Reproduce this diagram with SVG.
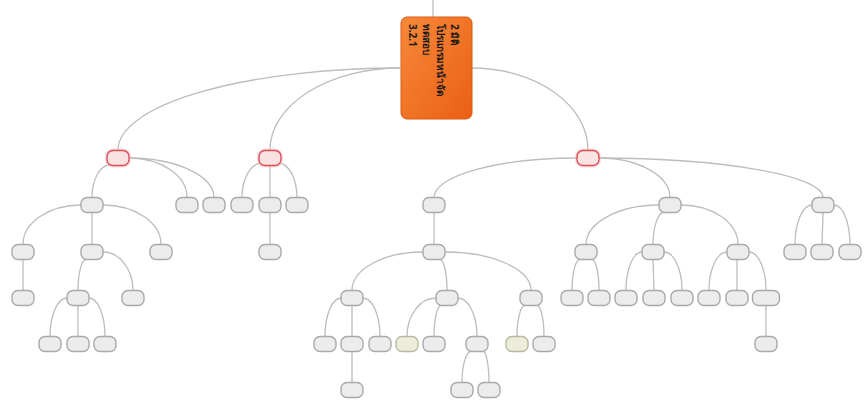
<svg xmlns="http://www.w3.org/2000/svg" width="865" height="403" viewBox="0 0 865 403">
<defs>
<linearGradient id="og" x1="0" y1="0" x2="1" y2="1">
<stop offset="0" stop-color="#f7893a"/>
<stop offset="1" stop-color="#ea5f14"/>
</linearGradient>
<style>
.c{fill:none;stroke:#bdbdbd;stroke-width:1.3}
.n{fill:#ececec;stroke:#a9a9a9;stroke-width:1.4}
.o{fill:#ecedda;stroke:#b9b9a2;stroke-width:1.4}
.r{fill:#fbe2e2;stroke:#d9505a;stroke-width:1.4}
.g{fill:none;stroke:#f6c4c4;stroke-width:4;opacity:.6}
.t{font-family:"Noto Sans","DejaVu Sans",sans-serif;font-size:10px;font-weight:bold;fill:#1a1a1a}
</style>
</defs>
<rect width="865" height="403" fill="#ffffff"/>
<g id="connectors" class="c">
<path d="M433 0V17"/>
<path d="M400 68A282 82 0 0 0 118 150.5"/>
<path d="M400 68A130 82 0 0 0 270 150.5"/>
<path d="M472 68A116 82 0 0 1 588 150.5"/>
<path d="M110 165A18 32.5 0 0 0 92 197.5"/>
<path d="M129 158A58 39.5 0 0 1 187 197.5"/>
<path d="M129 158A85 39.5 0 0 1 214 197.5"/>
<path d="M81 205A58 39.5 0 0 0 23 244.5"/>
<path d="M92 212.5V244.5"/>
<path d="M103 205A58 39.5 0 0 1 161 244.5"/>
<path d="M23 259.5V290.5"/>
<path d="M86 259.5A8 31 0 0 0 78 290.5"/>
<path d="M103 252A30 38.5 0 0 1 133 290.5"/>
<path d="M67 298A17 38.5 0 0 0 50 336.5"/>
<path d="M78 305.5V336.5"/>
<path d="M89 298A16 38.5 0 0 1 105 336.5"/>
<path d="M262 163A20 34.5 0 0 0 242 197.5"/>
<path d="M270 165.5V197.5"/>
<path d="M278 163A19 34.5 0 0 1 297 197.5"/>
<path d="M270 212.5V244.5"/>
<path d="M577 158A143 39.5 0 0 0 434 197.5"/>
<path d="M599 158A71 39.5 0 0 1 670 197.5"/>
<path d="M599 158A224 39.5 0 0 1 823 197.5"/>
<path d="M434 212.5V244.5"/>
<path d="M423 252A71 38.5 0 0 0 352 290.5"/>
<path d="M440 259.5A7 31 0 0 1 447 290.5"/>
<path d="M445 252A86 38.5 0 0 1 531 290.5"/>
<path d="M341 298A16 38.5 0 0 0 325 336.5"/>
<path d="M352 305.5V336.5"/>
<path d="M363 298A17 38.5 0 0 1 380 336.5"/>
<path d="M352 351.5V382.5"/>
<path d="M436 298A29 38.5 0 0 0 407 336.5"/>
<path d="M441 305.5A7 31 0 0 0 434 336.5"/>
<path d="M458 298A19 38.5 0 0 1 477 336.5"/>
<path d="M471 351.5A9 31 0 0 0 462 382.5"/>
<path d="M483 351.5A6 31 0 0 1 489 382.5"/>
<path d="M525 305.5A8 31 0 0 0 517 336.5"/>
<path d="M537 305.5A7 31 0 0 1 544 336.5"/>
<path d="M659 205A73 39.5 0 0 0 586 244.5"/>
<path d="M664 212.5A11 32 0 0 0 653 244.5"/>
<path d="M681 205A57 39.5 0 0 1 738 244.5"/>
<path d="M580 259.5A8 31 0 0 0 572 290.5"/>
<path d="M592 259.5A7 31 0 0 1 599 290.5"/>
<path d="M642 252A16 38.5 0 0 0 626 290.5"/>
<path d="M653 259.5L654 290.5"/>
<path d="M664 252A18 38.5 0 0 1 682 290.5"/>
<path d="M727 252A18 38.5 0 0 0 709 290.5"/>
<path d="M737 259.5V290.5"/>
<path d="M749 252A17 38.5 0 0 1 766 290.5"/>
<path d="M766 305.5V336.5"/>
<path d="M812 205A17 39.5 0 0 0 795 244.5"/>
<path d="M823 212.5L822 244.5"/>
<path d="M834 205A16 39.5 0 0 1 850 244.5"/>
</g>
<g id="root">
<rect x="401" y="17" width="71" height="102" rx="6" fill="url(#og)" stroke="#dc5a12" stroke-width="1"/>
<text class="t" transform="translate(451,24) rotate(90)">2 มิติ</text>
<text class="t" transform="translate(437,24) rotate(90)">โปรแกรมหน้าจัด</text>
<text class="t" transform="translate(423,24) rotate(90)">ทดสอบ</text>
<text class="t" transform="translate(409,24) rotate(90)">3.2.1</text>
</g>
<g id="A"><rect class="g" x="107" y="150.5" width="22" height="15" rx="6"/><rect class="r" x="107" y="150.5" width="22" height="15" rx="6"/></g>
<g id="B"><rect class="g" x="259" y="150.5" width="22" height="15" rx="6"/><rect class="r" x="259" y="150.5" width="22" height="15" rx="6"/></g>
<g id="C"><rect class="g" x="577" y="150.5" width="22" height="15" rx="6"/><rect class="r" x="577" y="150.5" width="22" height="15" rx="6"/></g>
<g id="A1"><rect class="n" x="81" y="197.5" width="22" height="15" rx="6"/></g>
<g id="A2"><rect class="n" x="176" y="197.5" width="22" height="15" rx="6"/></g>
<g id="A3"><rect class="n" x="203" y="197.5" width="22" height="15" rx="6"/></g>
<g id="A11"><rect class="n" x="12" y="244.5" width="22" height="15" rx="6"/></g>
<g id="A12"><rect class="n" x="81" y="244.5" width="22" height="15" rx="6"/></g>
<g id="A13"><rect class="n" x="150" y="244.5" width="22" height="15" rx="6"/></g>
<g id="A111"><rect class="n" x="12" y="290.5" width="22" height="15" rx="6"/></g>
<g id="A121"><rect class="n" x="67" y="290.5" width="22" height="15" rx="6"/></g>
<g id="A122"><rect class="n" x="122" y="290.5" width="22" height="15" rx="6"/></g>
<g id="A1211"><rect class="n" x="39" y="336.5" width="22" height="15" rx="6"/></g>
<g id="A1212"><rect class="n" x="67" y="336.5" width="22" height="15" rx="6"/></g>
<g id="A1213"><rect class="n" x="94" y="336.5" width="22" height="15" rx="6"/></g>
<g id="B1"><rect class="n" x="231" y="197.5" width="22" height="15" rx="6"/></g>
<g id="B2"><rect class="n" x="259" y="197.5" width="22" height="15" rx="6"/></g>
<g id="B3"><rect class="n" x="286" y="197.5" width="22" height="15" rx="6"/></g>
<g id="B21"><rect class="n" x="259" y="244.5" width="22" height="15" rx="6"/></g>
<g id="C1"><rect class="n" x="423" y="197.5" width="22" height="15" rx="6"/></g>
<g id="C2"><rect class="n" x="659" y="197.5" width="22" height="15" rx="6"/></g>
<g id="C3"><rect class="n" x="812" y="197.5" width="22" height="15" rx="6"/></g>
<g id="C11"><rect class="n" x="423" y="244.5" width="22" height="15" rx="6"/></g>
<g id="C111"><rect class="n" x="341" y="290.5" width="22" height="15" rx="6"/></g>
<g id="C112"><rect class="n" x="436" y="290.5" width="22" height="15" rx="6"/></g>
<g id="C113"><rect class="n" x="520" y="290.5" width="22" height="15" rx="6"/></g>
<g id="C1111"><rect class="n" x="314" y="336.5" width="22" height="15" rx="6"/></g>
<g id="C1112"><rect class="n" x="341" y="336.5" width="22" height="15" rx="6"/></g>
<g id="C1113"><rect class="n" x="369" y="336.5" width="22" height="15" rx="6"/></g>
<g id="C11121"><rect class="n" x="341" y="382.5" width="22" height="15" rx="6"/></g>
<g id="C1121"><rect class="o" x="396" y="336.5" width="22" height="15" rx="6"/></g>
<g id="C1122"><rect class="n" x="423" y="336.5" width="22" height="15" rx="6"/></g>
<g id="C1123"><rect class="n" x="466" y="336.5" width="22" height="15" rx="6"/></g>
<g id="C11231"><rect class="n" x="451" y="382.5" width="22" height="15" rx="6"/></g>
<g id="C11232"><rect class="n" x="478" y="382.5" width="22" height="15" rx="6"/></g>
<g id="C1131"><rect class="o" x="506" y="336.5" width="22" height="15" rx="6"/></g>
<g id="C1132"><rect class="n" x="533" y="336.5" width="22" height="15" rx="6"/></g>
<g id="C21"><rect class="n" x="575" y="244.5" width="22" height="15" rx="6"/></g>
<g id="C22"><rect class="n" x="642" y="244.5" width="22" height="15" rx="6"/></g>
<g id="C23"><rect class="n" x="727" y="244.5" width="22" height="15" rx="6"/></g>
<g id="C211"><rect class="n" x="561" y="290.5" width="22" height="15" rx="6"/></g>
<g id="C212"><rect class="n" x="588" y="290.5" width="22" height="15" rx="6"/></g>
<g id="C221"><rect class="n" x="615" y="290.5" width="22" height="15" rx="6"/></g>
<g id="C222"><rect class="n" x="643" y="290.5" width="22" height="15" rx="6"/></g>
<g id="C223"><rect class="n" x="671" y="290.5" width="22" height="15" rx="6"/></g>
<g id="C231"><rect class="n" x="698" y="290.5" width="22" height="15" rx="6"/></g>
<g id="C232"><rect class="n" x="726" y="290.5" width="22" height="15" rx="6"/></g>
<g id="C233"><rect class="n" x="752.5" y="290.5" width="27" height="15" rx="6"/></g>
<g id="C2331"><rect class="n" x="755" y="336.5" width="22" height="15" rx="6"/></g>
<g id="C31"><rect class="n" x="784" y="244.5" width="22" height="15" rx="6"/></g>
<g id="C32"><rect class="n" x="811" y="244.5" width="22" height="15" rx="6"/></g>
<g id="C33"><rect class="n" x="839" y="244.5" width="22" height="15" rx="6"/></g>
</svg>
